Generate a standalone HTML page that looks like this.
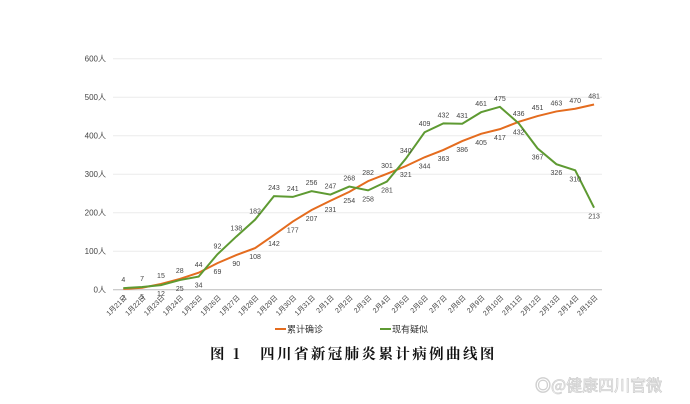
<!DOCTYPE html>
<html><head><meta charset="utf-8"><style>
body{margin:0;background:#fff;width:690px;height:404px;overflow:hidden}
svg{display:block;font-family:"Liberation Sans","Noto Sans CJK SC",sans-serif}
</style></head><body>
<svg id="c" width="690" height="404" xmlns="http://www.w3.org/2000/svg">
<g id="g"></g>
<line x1="275" y1="329" x2="286" y2="329" stroke="#e46c1f" stroke-width="2"/>
<text x="287" y="332.5" font-size="9" fill="#333">累计确诊</text>
<line x1="380" y1="329" x2="391" y2="329" stroke="#5e9a32" stroke-width="2"/>
<text x="392" y="332.5" font-size="9" fill="#333">现有疑似</text>
<text x="210" y="359" font-size="14.5" font-weight="bold" fill="#111" letter-spacing="2.4" font-family="'Noto Serif CJK SC','Noto Sans CJK SC',serif" xml:space="preserve">图 1   四川省新冠肺炎累计病例曲线图</text>
<text x="535" y="391" font-size="16" fill="#fff" stroke="#d0d0d0" stroke-width="0.8" font-family="'Noto Sans CJK SC',sans-serif">◎@健康四川官微</text>
</svg>
<script>
var O=[2,5,15,28,44,69,90,108,142,177,207,231,254,282,301,321,344,363,386,405,417,436,451,463,470,481];
var G=[4,7,12,25,34,92,138,182,243,241,256,247,268,258,281,340,409,432,431,461,475,432,367,326,310,213];
var d=['1月21日','1月22日','1月23日','1月24日','1月25日','1月26日','1月27日','1月28日','1月29日','1月30日','1月31日','2月1日','2月2日','2月3日','2月4日','2月5日','2月6日','2月7日','2月8日','2月9日','2月10日','2月11日','2月12日','2月13日','2月14日','2月15日'];
function X(i){return 123.3+i*18.83}function Y(v){return 289.7-v*0.385}
var s='';
for(var k=0;k<=6;k++){var y=Y(k*100);s+='<line x1="113" x2="602" y1="'+y+'" y2="'+y+'" stroke="'+(k?'#ececec':'#bbb')+'" stroke-width="1"/>';
s+='<text x="106" y="'+(y+3)+'" font-size="8" fill="#444" text-anchor="end">'+(k*100)+'人</text>';}
function pl(a,c){return '<polyline fill="none" stroke="'+c+'" stroke-width="2" points="'+a.map(function(v,i){return X(i)+','+Y(v)}).join(' ')+'"/>';}
s+=pl(O,'#e46c1f')+pl(G,'#5e9a32');
for(var i=0;i<26;i++){
 var gAbove=G[i]>=O[i];
 s+='<text x="'+X(i)+'" y="'+(Y(G[i])+(gAbove?-6:11))+'" font-size="7" fill="#444" text-anchor="middle">'+G[i]+'</text>';
 s+='<text x="'+X(i)+'" y="'+(Y(O[i])+(gAbove?11:-6))+'" font-size="7" fill="#444" text-anchor="middle">'+O[i]+'</text>';
 s+='<text transform="translate('+(X(i)+4)+',298) rotate(-45)" font-size="7" fill="#444" text-anchor="end">'+d[i]+'</text>';
}
document.getElementById('g').innerHTML=s;
</script>
</body></html>
